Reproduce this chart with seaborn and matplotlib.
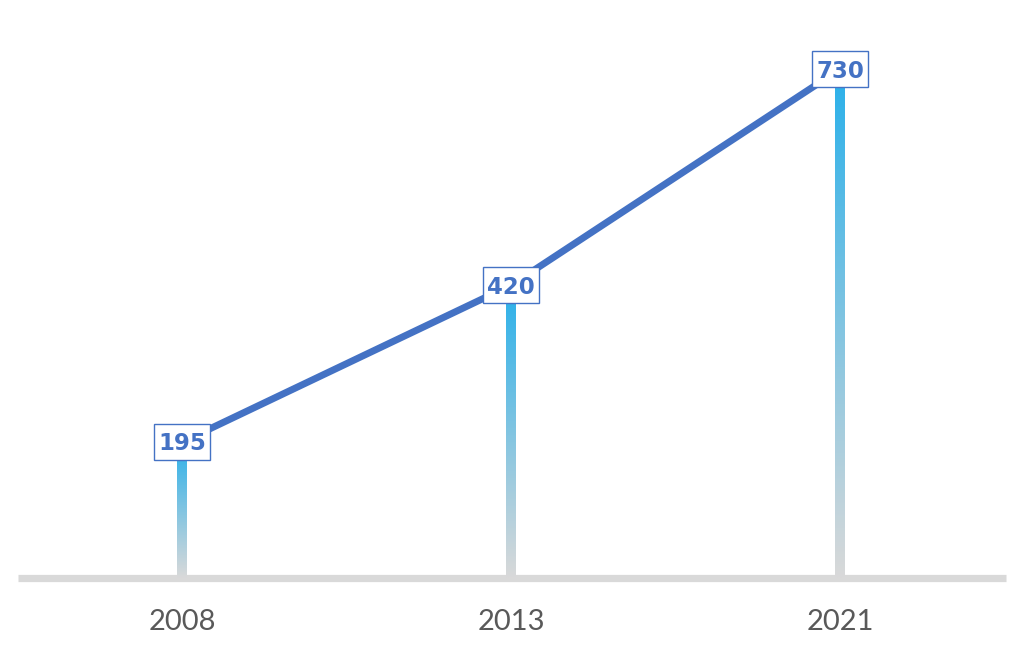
import numpy as np
import pandas as pd
import matplotlib
matplotlib.use("Agg")
import matplotlib.pyplot as plt
from matplotlib.colors import LinearSegmentedColormap
from matplotlib.patches import Rectangle
from matplotlib.transforms import ScaledTranslation
import seaborn as sns

# data
years = ["2008", "2013", "2021"]
values = [195, 420, 730]

line_color = "#4472c4"
base_color = "#d9d9d9"
grad_top = "#29b0ea"

sns.set_style("white")
plt.rcParams["font.family"] = ["Lato", "DejaVu Sans"]

fig = plt.figure(figsize=(10.24, 6.51), dpi=100)
# axes bottom sits on the baseline, spans full width
ax = fig.add_axes([0, 73 / 651, 1, 578 / 651])

pos = np.arange(len(years))
df = pd.DataFrame({"pos": pos, "value": values})

# gradient stems (blue at top, grey at base)
cmap = LinearSegmentedColormap.from_list("stem", [base_color, grad_top])
grad = np.linspace(0, 1, 256).reshape(-1, 1)
half_w = 5 / 329
for p, v in zip(pos, values):
    ax.imshow(grad, cmap=cmap, origin="lower", aspect="auto",
              extent=[p - half_w, p + half_w, 0, v], zorder=2)

# baseline
ax.axhline(0, xmin=18 / 1024, xmax=1006 / 1024, color=base_color,
           linewidth=5.2, zorder=1, solid_capstyle="butt", clip_on=False)

# trend line
sns.lineplot(data=df, x="pos", y="value", color=line_color, linewidth=5,
             ax=ax, zorder=3, solid_capstyle="butt")

ax.set_xlim(-182 / 329, (1024 - 182) / 329)
ax.set_ylim(0, 578 / 0.697)

# value labels in boxes
renderer = fig.canvas.get_renderer()
for p, v in zip(pos, values):
    t = ax.annotate(str(v), (p, v), xytext=(0, -6), textcoords="offset points",
                    ha="center", va="baseline", fontsize=16.5, fontweight="bold",
                    color=line_color, zorder=6, family=["DejaVu Sans"])
    w = t.get_window_extent(renderer).width + 9
    trans = fig.dpi_scale_trans + ScaledTranslation(p, v, ax.transData)
    ax.add_patch(Rectangle((-w / 200, -0.18), w / 100, 0.36, transform=trans,
                           facecolor="white", edgecolor=line_color,
                           linewidth=1, zorder=5))

ax.set_xticks(pos)
ax.set_xticklabels(years, fontsize=21, color="#595959")
ax.tick_params(axis="x", length=0, pad=22)
ax.set_yticks([])
ax.set_xlabel("")
ax.set_ylabel("")
for s in ax.spines.values():
    s.set_visible(False)

fig.savefig("out.png", dpi=100, facecolor="white")
